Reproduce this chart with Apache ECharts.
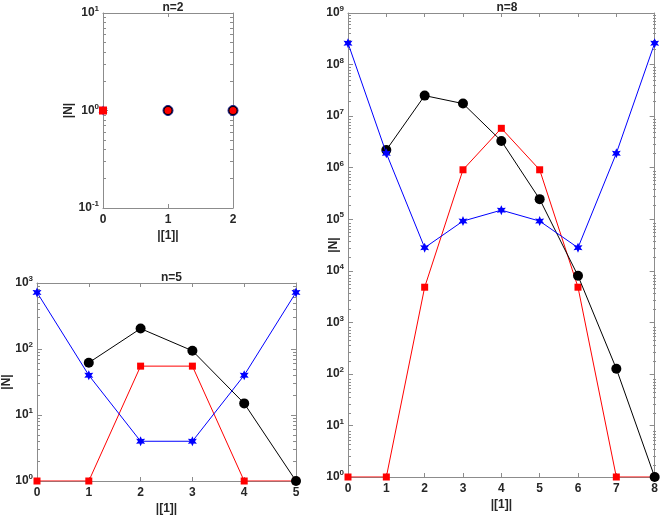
<!DOCTYPE html>
<html>
<head>
<meta charset="utf-8">
<script src="https://cdn.jsdelivr.net/npm/echarts@6/dist/echarts.min.js"></script>
<style>
  html, body { margin: 0; padding: 0; background: #fff; }
  #main { width: 661px; height: 516px; }
</style>
</head>
<body>
<div id="main"></div>
<script>
// n=2 panel
var x2 = [0, 1, 2]
var black2 = [null, 1, 1]
var red2 = [1, 1, 1]
var blue2 = [1, 1, 1]
// n=5 panel
var x5 = [0, 1, 2, 3, 4, 5]
var black5 = [null, 62, 204, 94, 15, 1]
var red5 = [1, 1, 55, 55, 1, 1]
var blue5 = [720, 40, 4, 4, 40, 720]
// n=8 panel
var x8 = [0, 1, 2, 3, 4, 5, 6, 7, 8]
var black8 = [null, 2.2e6, 2.5e7, 1.75e7, 3.3e6, 2.45e5, 8000, 126, 1]
var red8 = [1, 1, 4800, 9.1e5, 5.8e6, 9.1e5, 4800, 1, 1]
var blue8 = [2.6e8, 1.9e6, 2.8e4, 9.2e4, 1.5e5, 9.2e4, 2.8e4, 1.9e6, 2.6e8]

var titles = ['n=2', 'n=5', 'n=8']
var xName = '|[1]|'
var yName = '|N|'

var star = 'path://M0,-100 L25,-43 L87,-50 L50,0 L87,50 L25,43 L0,100 L-25,43 L-87,50 L-50,0 L-87,-50 L-25,-43 Z'
var axisColor = '#8c8c8c'
var textColor = '#262626'

var boxes = [
  { left: 103, top: 13, width: 130, height: 195 },
  { left: 37, top: 283, width: 259, height: 198 },
  { left: 348, top: 13, width: 308, height: 468 }
]
var grids = []
boxes.forEach(function (b) { grids.push(Object.assign({}, b)) })
// a thin strip just left of each box: its right-side axis carries the left minor ticks
boxes.forEach(function (b) { grids.push({ left: b.left - 20, top: b.top, width: 20, height: b.height }) })
// the box itself again: its right-side axis carries the right minor ticks
boxes.forEach(function (b) { grids.push(Object.assign({}, b)) })

function pairs(xs, ys) {
  let out = []
  for (let i = 0; i < xs.length; i++) {
    if (ys[i] !== null) out.push([xs[i], ys[i]])
  }
  return out
}

function decades(e0, e1) {
  let v = []
  for (let e = e0; e <= e1; e++) v.push(Math.pow(10, e))
  return v
}

function minors(e0, e1) {
  let v = []
  for (let e = e0; e < e1; e++) {
    for (let m = 2; m <= 9; m++) v.push(m * Math.pow(10, e))
  }
  return v
}

var xAxes = []
var yAxes = []
var extraX = []
var extraY = []

function addAxes(gi, xmax, e0, e1, nameGap) {
  let line = { show: true, onZero: false, lineStyle: { color: axisColor, width: 1 } }
  xAxes.push({
    gridIndex: gi, type: 'value', min: 0, max: xmax, interval: 1,
    name: xName, nameLocation: 'middle', nameGap: 22, nameMoveOverlap: false,
    nameTextStyle: { fontWeight: 'bold', fontSize: 12, color: textColor },
    axisLine: line,
    axisTick: { inside: true, length: 4, lineStyle: { color: axisColor } },
    axisLabel: { fontWeight: 'bold', fontSize: 12, color: textColor, margin: 6 },
    splitLine: { show: false }
  })
  xAxes.push({
    gridIndex: gi, type: 'value', min: 0, max: xmax, interval: 1, position: 'top',
    axisLine: line,
    axisTick: { inside: true, length: 4, lineStyle: { color: axisColor } },
    axisLabel: { show: false },
    splitLine: { show: false }
  })
  let major = decades(e0, e1)
  let minor = minors(e0, e1)
  let lo = Math.pow(10, e0)
  let hi = Math.pow(10, e1)
  yAxes.push({
    gridIndex: gi, type: 'log', logBase: 10, min: lo, max: hi,
    name: yName, nameLocation: 'middle', nameGap: nameGap, nameRotate: 90, nameMoveOverlap: false,
    nameTextStyle: { fontWeight: 'bold', fontSize: 12, color: textColor },
    axisLine: line,
    axisTick: { inside: true, length: 5, customValues: major, lineStyle: { color: axisColor } },
    axisLabel: {
      customValues: major, margin: 4,
      formatter: function (v) {
        let e = Math.round(Math.log10(v))
        return '{b|10}{s|' + e + '}'
      },
      rich: {
        b: { fontWeight: 'bold', fontSize: 12, color: textColor },
        s: { fontWeight: 'bold', fontSize: 8, color: textColor, verticalAlign: 'top', padding: [0, 0, 8, 0] }
      }
    },
    splitLine: { show: false }
  })
  yAxes.push({
    gridIndex: gi, type: 'log', logBase: 10, min: lo, max: hi, position: 'right',
    axisLine: line,
    axisTick: { inside: true, length: 5, customValues: major, lineStyle: { color: axisColor } },
    axisLabel: { show: false },
    splitLine: { show: false }
  })
  // minor ticks: left (outside ticks of the strip's right axis) and right
  let strips = [[gi + 3, false], [gi + 6, true]]
  strips.forEach(function (s) {
    extraX.push({ gridIndex: s[0], type: 'value', min: 1, max: 2, show: false })
    extraY.push({
      gridIndex: s[0], type: 'log', logBase: 10, min: lo, max: hi, position: 'right',
      axisLine: { show: false, onZero: false },
      axisTick: { inside: s[1], length: 3, customValues: minor, lineStyle: { color: axisColor } },
      axisLabel: { show: false },
      splitLine: { show: false }
    })
  })
}

addAxes(0, 2, -1, 1, 28)
addAxes(1, 5, 0, 3, 24)
addAxes(2, 8, 0, 9, 8)

function lineSeries(gi, data, color, symbol, size, z) {
  return {
    type: 'line', xAxisIndex: gi * 2, yAxisIndex: gi * 2,
    data: data, symbol: symbol, symbolSize: size, showSymbol: true,
    lineStyle: { color: color, width: 1 },
    itemStyle: { color: color },
    z: z, animation: false, silent: true
  }
}

var series = []
// n=2: markers only
let s2blue = lineSeries(0, pairs(x2, blue2), '#0000ff', star, [9, 10], 2)
let s2b = lineSeries(0, pairs(x2, black2), '#000000', 'circle', 10, 3)
s2b.itemStyle = { color: '#000000', borderColor: '#1a1a8c', borderWidth: 1 }
let redData2 = pairs(x2, red2).map(function (p, i) {
  return i === 0 ? { value: p, symbol: 'rect', symbolSize: 8 } : { value: p, symbol: 'circle', symbolSize: 7 }
})
let s2red = lineSeries(0, redData2, '#ff0000', 'rect', 8, 4)
;[s2blue, s2b, s2red].forEach(function (s) {
  s.lineStyle = { width: 0, opacity: 0 }
  series.push(s)
})

// n=5 and n=8: red under black under blue
var sets = [
  [1, x5, black5, red5, blue5],
  [2, x8, black8, red8, blue8]
]
sets.forEach(function (s) {
  series.push(lineSeries(s[0], pairs(s[1], s[3]), '#ff0000', 'rect', 7, 2))
  series.push(lineSeries(s[0], pairs(s[1], s[2]), '#000000', 'circle', 10, 3))
  series.push(lineSeries(s[0], pairs(s[1], s[4]), '#0000ff', star, [9, 10], 4))
})

var chart = echarts.init(document.getElementById('main'))
chart.setOption({
  animation: false,
  backgroundColor: '#ffffff',
  textStyle: { fontFamily: 'Arial, "Liberation Sans", sans-serif' },
  title: boxes.map(function (g, i) {
    return {
      text: titles[i], left: g.left + g.width / 2, top: g.top - 16, textAlign: 'center',
      textStyle: { fontWeight: 'bold', fontSize: 12, color: textColor }
    }
  }),
  grid: grids,
  xAxis: xAxes.concat(extraX),
  yAxis: yAxes.concat(extraY),
  series: series
})
</script>
</body>
</html>
